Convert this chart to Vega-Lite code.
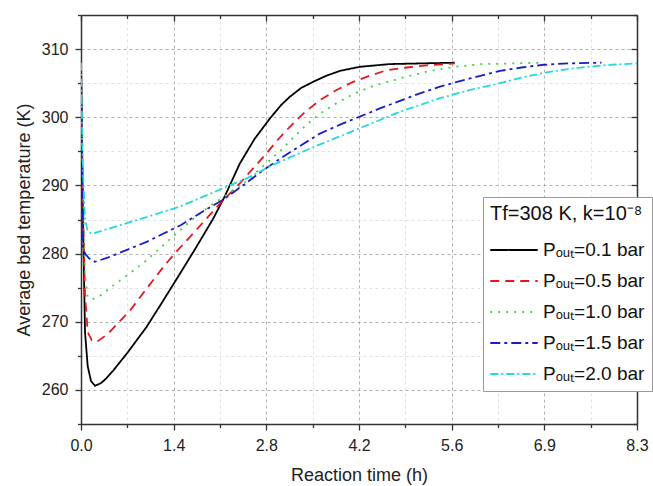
{
  "$schema": "https://vega.github.io/schema/vega-lite/v6.json",
  "width": 556,
  "height": 409,
  "autosize": {"type": "none"},
  "padding": {"left": 81, "top": 15, "right": 16, "bottom": 62},
  "config": {
    "font": "Liberation Sans",
    "view": {"stroke": null},
    "axis": {"labelFont": "Liberation Sans", "titleFont": "Liberation Sans", "labelColor": "#222", "titleColor": "#222", "domainColor": "#333", "domainWidth": 1.5, "tickColor": "#333", "tickWidth": 1.3, "labelFontSize": 16, "titleFontSize": 18, "titleFontWeight": "normal"}
  },
  "data": {"values": [
    {"t":0,"T":308,"s":"Pₒᵤₜ=0.1 bar"},{"t":0.01,"T":300,"s":"Pₒᵤₜ=0.1 bar"},{"t":0.03,"T":285,"s":"Pₒᵤₜ=0.1 bar"},{"t":0.06,"T":268.5,"s":"Pₒᵤₜ=0.1 bar"},{"t":0.1,"T":263.5,"s":"Pₒᵤₜ=0.1 bar"},{"t":0.15,"T":261.3,"s":"Pₒᵤₜ=0.1 bar"},{"t":0.21,"T":260.6,"s":"Pₒᵤₜ=0.1 bar"},{"t":0.3,"T":261,"s":"Pₒᵤₜ=0.1 bar"},{"t":0.38,"T":261.7,"s":"Pₒᵤₜ=0.1 bar"},{"t":0.48,"T":262.8,"s":"Pₒᵤₜ=0.1 bar"},{"t":0.7,"T":265.5,"s":"Pₒᵤₜ=0.1 bar"},{"t":0.98,"T":269.2,"s":"Pₒᵤₜ=0.1 bar"},{"t":1.2,"T":272.6,"s":"Pₒᵤₜ=0.1 bar"},{"t":1.48,"T":277,"s":"Pₒᵤₜ=0.1 bar"},{"t":1.7,"T":280.5,"s":"Pₒᵤₜ=0.1 bar"},{"t":1.98,"T":285.1,"s":"Pₒᵤₜ=0.1 bar"},{"t":2.15,"T":288.3,"s":"Pₒᵤₜ=0.1 bar"},{"t":2.38,"T":293.2,"s":"Pₒᵤₜ=0.1 bar"},{"t":2.6,"T":296.8,"s":"Pₒᵤₜ=0.1 bar"},{"t":2.83,"T":299.8,"s":"Pₒᵤₜ=0.1 bar"},{"t":3.0,"T":301.8,"s":"Pₒᵤₜ=0.1 bar"},{"t":3.13,"T":303,"s":"Pₒᵤₜ=0.1 bar"},{"t":3.3,"T":304.3,"s":"Pₒᵤₜ=0.1 bar"},{"t":3.48,"T":305.2,"s":"Pₒᵤₜ=0.1 bar"},{"t":3.68,"T":306.1,"s":"Pₒᵤₜ=0.1 bar"},{"t":3.88,"T":306.8,"s":"Pₒᵤₜ=0.1 bar"},{"t":4.18,"T":307.4,"s":"Pₒᵤₜ=0.1 bar"},{"t":4.63,"T":307.8,"s":"Pₒᵤₜ=0.1 bar"},{"t":5.1,"T":307.9,"s":"Pₒᵤₜ=0.1 bar"},{"t":5.6,"T":308,"s":"Pₒᵤₜ=0.1 bar"},
    {"t":0,"T":308,"s":"Pₒᵤₜ=0.5 bar"},{"t":0.01,"T":300,"s":"Pₒᵤₜ=0.5 bar"},{"t":0.03,"T":286,"s":"Pₒᵤₜ=0.5 bar"},{"t":0.06,"T":274,"s":"Pₒᵤₜ=0.5 bar"},{"t":0.1,"T":268.5,"s":"Pₒᵤₜ=0.5 bar"},{"t":0.16,"T":267.3,"s":"Pₒᵤₜ=0.5 bar"},{"t":0.23,"T":267,"s":"Pₒᵤₜ=0.5 bar"},{"t":0.4,"T":268.2,"s":"Pₒᵤₜ=0.5 bar"},{"t":0.73,"T":271.6,"s":"Pₒᵤₜ=0.5 bar"},{"t":0.98,"T":274.8,"s":"Pₒᵤₜ=0.5 bar"},{"t":1.23,"T":278,"s":"Pₒᵤₜ=0.5 bar"},{"t":1.43,"T":280.3,"s":"Pₒᵤₜ=0.5 bar"},{"t":1.63,"T":282.4,"s":"Pₒᵤₜ=0.5 bar"},{"t":1.85,"T":284.8,"s":"Pₒᵤₜ=0.5 bar"},{"t":2.08,"T":287.3,"s":"Pₒᵤₜ=0.5 bar"},{"t":2.38,"T":290.3,"s":"Pₒᵤₜ=0.5 bar"},{"t":2.58,"T":292.5,"s":"Pₒᵤₜ=0.5 bar"},{"t":2.78,"T":294.7,"s":"Pₒᵤₜ=0.5 bar"},{"t":2.95,"T":296.7,"s":"Pₒᵤₜ=0.5 bar"},{"t":3.13,"T":298.6,"s":"Pₒᵤₜ=0.5 bar"},{"t":3.35,"T":300.7,"s":"Pₒᵤₜ=0.5 bar"},{"t":3.58,"T":302.5,"s":"Pₒᵤₜ=0.5 bar"},{"t":3.83,"T":304,"s":"Pₒᵤₜ=0.5 bar"},{"t":4.08,"T":305.2,"s":"Pₒᵤₜ=0.5 bar"},{"t":4.33,"T":306.1,"s":"Pₒᵤₜ=0.5 bar"},{"t":4.58,"T":306.9,"s":"Pₒᵤₜ=0.5 bar"},{"t":4.88,"T":307.3,"s":"Pₒᵤₜ=0.5 bar"},{"t":5.18,"T":307.6,"s":"Pₒᵤₜ=0.5 bar"},{"t":5.6,"T":307.9,"s":"Pₒᵤₜ=0.5 bar"},
    {"t":0,"T":308,"s":"Pₒᵤₜ=1.0 bar"},{"t":0.01,"T":302,"s":"Pₒᵤₜ=1.0 bar"},{"t":0.03,"T":290,"s":"Pₒᵤₜ=1.0 bar"},{"t":0.06,"T":277,"s":"Pₒᵤₜ=1.0 bar"},{"t":0.1,"T":273.6,"s":"Pₒᵤₜ=1.0 bar"},{"t":0.17,"T":273.3,"s":"Pₒᵤₜ=1.0 bar"},{"t":0.3,"T":273.9,"s":"Pₒᵤₜ=1.0 bar"},{"t":0.48,"T":275.3,"s":"Pₒᵤₜ=1.0 bar"},{"t":0.73,"T":277.1,"s":"Pₒᵤₜ=1.0 bar"},{"t":0.98,"T":279,"s":"Pₒᵤₜ=1.0 bar"},{"t":1.23,"T":281.2,"s":"Pₒᵤₜ=1.0 bar"},{"t":1.48,"T":283.4,"s":"Pₒᵤₜ=1.0 bar"},{"t":1.73,"T":285.5,"s":"Pₒᵤₜ=1.0 bar"},{"t":1.98,"T":287.3,"s":"Pₒᵤₜ=1.0 bar"},{"t":2.18,"T":288.6,"s":"Pₒᵤₜ=1.0 bar"},{"t":2.38,"T":289.8,"s":"Pₒᵤₜ=1.0 bar"},{"t":2.68,"T":292.4,"s":"Pₒᵤₜ=1.0 bar"},{"t":2.98,"T":295,"s":"Pₒᵤₜ=1.0 bar"},{"t":3.18,"T":297,"s":"Pₒᵤₜ=1.0 bar"},{"t":3.38,"T":298.9,"s":"Pₒᵤₜ=1.0 bar"},{"t":3.58,"T":300.5,"s":"Pₒᵤₜ=1.0 bar"},{"t":3.78,"T":301.8,"s":"Pₒᵤₜ=1.0 bar"},{"t":4.08,"T":303.4,"s":"Pₒᵤₜ=1.0 bar"},{"t":4.38,"T":304.6,"s":"Pₒᵤₜ=1.0 bar"},{"t":4.78,"T":305.7,"s":"Pₒᵤₜ=1.0 bar"},{"t":5.18,"T":306.7,"s":"Pₒᵤₜ=1.0 bar"},{"t":5.6,"T":307.4,"s":"Pₒᵤₜ=1.0 bar"},{"t":6.0,"T":307.8,"s":"Pₒᵤₜ=1.0 bar"},{"t":6.5,"T":307.9,"s":"Pₒᵤₜ=1.0 bar"},{"t":6.9,"T":308,"s":"Pₒᵤₜ=1.0 bar"},
    {"t":0,"T":308,"s":"Pₒᵤₜ=1.5 bar"},{"t":0.01,"T":300,"s":"Pₒᵤₜ=1.5 bar"},{"t":0.02,"T":290,"s":"Pₒᵤₜ=1.5 bar"},{"t":0.03,"T":281,"s":"Pₒᵤₜ=1.5 bar"},{"t":0.06,"T":280,"s":"Pₒᵤₜ=1.5 bar"},{"t":0.12,"T":279.3,"s":"Pₒᵤₜ=1.5 bar"},{"t":0.21,"T":278.8,"s":"Pₒᵤₜ=1.5 bar"},{"t":0.4,"T":279.4,"s":"Pₒᵤₜ=1.5 bar"},{"t":0.73,"T":280.7,"s":"Pₒᵤₜ=1.5 bar"},{"t":1.0,"T":281.8,"s":"Pₒᵤₜ=1.5 bar"},{"t":1.23,"T":282.9,"s":"Pₒᵤₜ=1.5 bar"},{"t":1.5,"T":284.2,"s":"Pₒᵤₜ=1.5 bar"},{"t":1.73,"T":285.6,"s":"Pₒᵤₜ=1.5 bar"},{"t":1.95,"T":286.9,"s":"Pₒᵤₜ=1.5 bar"},{"t":2.13,"T":287.9,"s":"Pₒᵤₜ=1.5 bar"},{"t":2.4,"T":289.8,"s":"Pₒᵤₜ=1.5 bar"},{"t":2.7,"T":292,"s":"Pₒᵤₜ=1.5 bar"},{"t":2.98,"T":293.9,"s":"Pₒᵤₜ=1.5 bar"},{"t":3.3,"T":295.9,"s":"Pₒᵤₜ=1.5 bar"},{"t":3.58,"T":297.6,"s":"Pₒᵤₜ=1.5 bar"},{"t":3.9,"T":299,"s":"Pₒᵤₜ=1.5 bar"},{"t":4.18,"T":300.1,"s":"Pₒᵤₜ=1.5 bar"},{"t":4.48,"T":301.3,"s":"Pₒᵤₜ=1.5 bar"},{"t":4.78,"T":302.4,"s":"Pₒᵤₜ=1.5 bar"},{"t":5.08,"T":303.5,"s":"Pₒᵤₜ=1.5 bar"},{"t":5.38,"T":304.5,"s":"Pₒᵤₜ=1.5 bar"},{"t":5.83,"T":305.7,"s":"Pₒᵤₜ=1.5 bar"},{"t":6.28,"T":306.8,"s":"Pₒᵤₜ=1.5 bar"},{"t":6.6,"T":307.3,"s":"Pₒᵤₜ=1.5 bar"},{"t":6.93,"T":307.7,"s":"Pₒᵤₜ=1.5 bar"},{"t":7.3,"T":307.9,"s":"Pₒᵤₜ=1.5 bar"},{"t":7.8,"T":308,"s":"Pₒᵤₜ=1.5 bar"},
    {"t":0,"T":308,"s":"Pₒᵤₜ=2.0 bar"},{"t":0.01,"T":302,"s":"Pₒᵤₜ=2.0 bar"},{"t":0.03,"T":292,"s":"Pₒᵤₜ=2.0 bar"},{"t":0.06,"T":285,"s":"Pₒᵤₜ=2.0 bar"},{"t":0.1,"T":283.3,"s":"Pₒᵤₜ=2.0 bar"},{"t":0.16,"T":282.9,"s":"Pₒᵤₜ=2.0 bar"},{"t":0.4,"T":283.6,"s":"Pₒᵤₜ=2.0 bar"},{"t":0.73,"T":284.6,"s":"Pₒᵤₜ=2.0 bar"},{"t":1.1,"T":285.7,"s":"Pₒᵤₜ=2.0 bar"},{"t":1.48,"T":286.9,"s":"Pₒᵤₜ=2.0 bar"},{"t":1.8,"T":288.2,"s":"Pₒᵤₜ=2.0 bar"},{"t":2.18,"T":289.8,"s":"Pₒᵤₜ=2.0 bar"},{"t":2.5,"T":291.1,"s":"Pₒᵤₜ=2.0 bar"},{"t":2.83,"T":292.8,"s":"Pₒᵤₜ=2.0 bar"},{"t":3.15,"T":294.2,"s":"Pₒᵤₜ=2.0 bar"},{"t":3.48,"T":295.6,"s":"Pₒᵤₜ=2.0 bar"},{"t":3.83,"T":297,"s":"Pₒᵤₜ=2.0 bar"},{"t":4.18,"T":298.4,"s":"Pₒᵤₜ=2.0 bar"},{"t":4.48,"T":299.6,"s":"Pₒᵤₜ=2.0 bar"},{"t":4.78,"T":300.8,"s":"Pₒᵤₜ=2.0 bar"},{"t":5.08,"T":301.8,"s":"Pₒᵤₜ=2.0 bar"},{"t":5.38,"T":302.8,"s":"Pₒᵤₜ=2.0 bar"},{"t":5.83,"T":304,"s":"Pₒᵤₜ=2.0 bar"},{"t":6.28,"T":305,"s":"Pₒᵤₜ=2.0 bar"},{"t":6.6,"T":305.8,"s":"Pₒᵤₜ=2.0 bar"},{"t":6.93,"T":306.5,"s":"Pₒᵤₜ=2.0 bar"},{"t":7.25,"T":307,"s":"Pₒᵤₜ=2.0 bar"},{"t":7.58,"T":307.4,"s":"Pₒᵤₜ=2.0 bar"},{"t":7.95,"T":307.7,"s":"Pₒᵤₜ=2.0 bar"},{"t":8.33,"T":307.9,"s":"Pₒᵤₜ=2.0 bar"}
  ]},
  "resolve": {"axis": {"x": "independent", "y": "independent"}},
  "layer": [
    {
      "mark": {"type": "line", "strokeWidth": 1.8, "clip": true},
      "encoding": {
        "x": {"field": "t", "type": "quantitative", "title": "Reaction time (h)",
          "scale": {"domain": [0, 8.33333], "nice": false, "zero": false},
          "axis": {
            "values": [0, 0.69444, 1.38889, 2.08333, 2.77778, 3.47222, 4.16667, 4.86111, 5.55556, 6.25, 6.94444, 7.63889, 8.3333],
            "labelExpr": "abs(datum.value/1.388889 - round(datum.value/1.388889)) < 0.01 ? format(datum.value, '.1f') : ''",
            "tickSize": {"condition": {"test": "abs(datum.value/1.388889 - round(datum.value/1.388889)) < 0.01", "value": 6}, "value": 3.5},
            "gridColor": {"condition": {"test": "abs(datum.value/1.388889 - round(datum.value/1.388889)) < 0.01", "value": "#b0b0b0"}, "value": "#e2e2e2"},
            "gridDash": [3, 3],
            "grid": true,
            "labelPadding": 7,
            "labelFlush": false,
            "labelOverlap": false,
            "titlePadding": 13
          }},
        "y": {"field": "T", "type": "quantitative", "title": "Average bed temperature (K)",
          "scale": {"domain": [255, 315], "nice": false, "zero": false},
          "axis": {
            "values": [255, 260, 265, 270, 275, 280, 285, 290, 295, 300, 305, 310, 315],
            "labelExpr": "datum.value % 10 == 0 ? datum.value : ''",
            "tickSize": {"condition": {"test": "datum.value % 10 == 0", "value": 6}, "value": 3.5},
            "gridColor": {"condition": {"test": "datum.value % 10 == 0", "value": "#b0b0b0"}, "value": "#e2e2e2"},
            "gridDash": [3, 3],
            "grid": true,
            "labelPadding": 7,
            "titlePadding": 8
          }},
        "color": {"field": "s", "type": "nominal",
          "scale": {"domain": ["Pₒᵤₜ=0.1 bar", "Pₒᵤₜ=0.5 bar", "Pₒᵤₜ=1.0 bar", "Pₒᵤₜ=1.5 bar", "Pₒᵤₜ=2.0 bar"],
                    "range": ["#000000", "#e8161e", "#3fd43f", "#1c1cc8", "#22dada"]},
          "legend": {
            "title": "Tf=308 K, k=10⁻⁸",
            "orient": "none", "legendX": 402, "legendY": 182,
            "titleFont": "Liberation Sans", "titleFontSize": 20, "titleFontWeight": "normal", "titleColor": "#111",
            "labelFont": "Liberation Sans", "labelFontSize": 19, "labelColor": "#111",
            "symbolType": "M-1.5,0H1.5", "symbolSize": 1000, "symbolStrokeWidth": 2, "symbolOffset": 7,
            "rowPadding": 4, "labelOffset": 12, "titlePadding": 9,
            "padding": 7, "strokeColor": "#999", "fillColor": "white", "cornerRadius": 0,
            "labelLimit": 300
          }},
        "strokeDash": {"field": "s", "type": "nominal",
          "scale": {"domain": ["Pₒᵤₜ=0.1 bar", "Pₒᵤₜ=0.5 bar", "Pₒᵤₜ=1.0 bar", "Pₒᵤₜ=1.5 bar", "Pₒᵤₜ=2.0 bar"],
                    "range": [[1, 0], [9, 6], [2, 6], [10, 4, 3, 4], [8, 3, 2, 3]]},
          "legend": {
            "title": "Tf=308 K, k=10⁻⁸",
            "orient": "none", "legendX": 402, "legendY": 182
          }}
      }
    },
    {
      "mark": {"type": "line", "opacity": 0},
      "encoding": {
        "x": {"field": "t", "type": "quantitative",
          "axis": {"orient": "top", "title": null, "labels": false, "grid": false,
            "values": [0, 0.69444, 1.38889, 2.08333, 2.77778, 3.47222, 4.16667, 4.86111, 5.55556, 6.25, 6.94444, 7.63889, 8.3333],
            "tickSize": {"condition": {"test": "abs(datum.value/1.388889 - round(datum.value/1.388889)) < 0.01", "value": -6}, "value": -3.5}}},
        "y": {"field": "T", "type": "quantitative",
          "axis": {"orient": "right", "title": null, "labels": false, "grid": false,
            "values": [255, 260, 265, 270, 275, 280, 285, 290, 295, 300, 305, 310, 315],
            "tickSize": {"condition": {"test": "datum.value % 10 == 0", "value": -6}, "value": -3.5}}}
      }
    }
  ]
}
